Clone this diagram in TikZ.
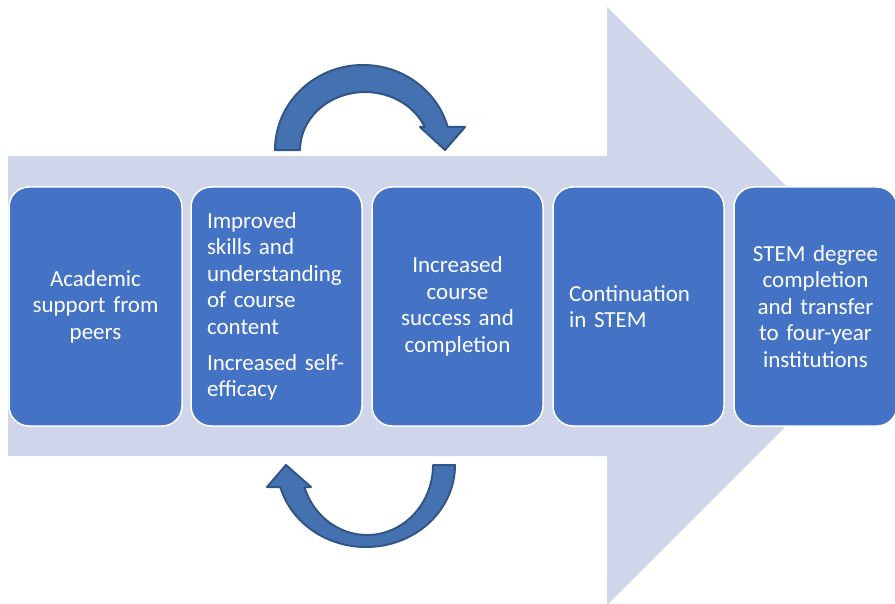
\documentclass[tikz,border=0pt]{standalone}
\usepackage{fontspec}
\setmainfont{Carlito}
\definecolor{bgarrow}{RGB}{207,213,234}
\definecolor{boxblue}{RGB}{68,114,196}
\definecolor{loopfill}{RGB}{68,114,176}
\definecolor{loopline}{RGB}{50,85,135}

\begin{document}
\begin{tikzpicture}
	[x=1pt,y=-1pt,
	stepbox/.style={rectangle, rounded corners=20pt, fill=boxblue, draw=white, line width=1.5pt,
		minimum width=171pt, minimum height=239pt, inner sep=0pt, text width=139pt,
		text=white, font=\fontsize{23}{26.5}\selectfont},
	cyclearrow/.style={fill=loopfill, draw=loopline, line width=2pt, line join=round}]
	\useasboundingbox (0,0) rectangle (895,604);
	\clip (0,0) rectangle (895,604);
	
	\fill[bgarrow] (8,156) -- (607,156) -- (607,7) -- (906,306) -- (607,605) -- (607,456) -- (8,456) -- cycle;
	
	\node[stepbox, minimum width=173pt, align=center] (s1) at (95.5,306.5) {Academic\\support from\\peers};
	\node[stepbox, align=left] (s2) at (276.5,306.5) {Improved\\skills and\\understanding\\of course\\content\\[9.5pt]Increased self-\\efficacy};
	\node[stepbox, align=center] (s3) at (457.5,306.5) {Increased\\course\\success and\\completion};
	\node[stepbox, align=left] (s4) at (638.5,306.5) {Continuation\\in STEM};
	\node[stepbox, minimum width=163pt, align=center] (s5) at (815.5,306.5) {STEM degree\\completion\\and transfer\\to four-year\\institutions};
	
	\filldraw[cyclearrow] (275,150) arc[start angle=180, end angle=344.3, x radius=88, y radius=85]
		-- (465,127) -- (445,150) -- (420,127) -- (424.7,127)
		arc[start angle=336.6, end angle=180, x radius=65, y radius=58] -- cycle;
	\filldraw[cyclearrow] (455,465) arc[start angle=0, end angle=164.4, x radius=89, y radius=82]
		-- (267,487) -- (286,465) -- (311,487) -- (304.4,487)
		arc[start angle=161.7, end angle=0, x radius=66, y radius=70] -- cycle;
\end{tikzpicture}
\end{document}
